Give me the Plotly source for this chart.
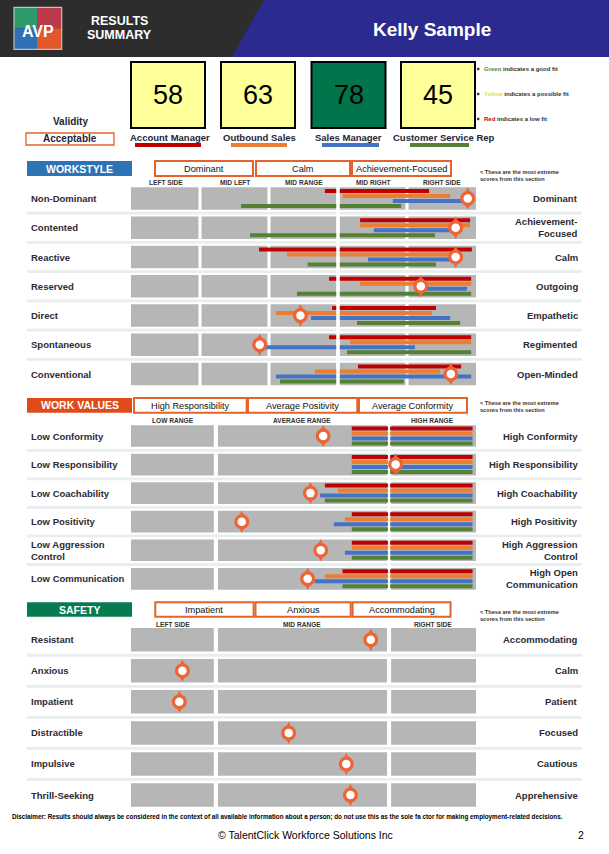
import plotly.graph_objects as go

W, H = 609, 854
FONT = "Liberation Sans, Arial, Helvetica, sans-serif"
INK = "#2B2B35"

# ---------------- data ----------------
person_name = "Kelly Sample"
validity = "Acceptable"

roles = ["Account Manager", "Outbound Sales", "Sales Manager", "Customer Service Rep"]
role_scores = [58, 63, 78, 45]
role_fit = ["Yellow", "Yellow", "Green", "Yellow"]
role_colors = ["#C00000", "#ED7D31", "#4472C4", "#548235"]

fit_words = ["Green", "Yellow", "Red"]
fit_texts = ["indicates a good fit", "indicates a possible fit", "indicates a low fit"]

# WORKSTYLE
ws_left = ["Non-Dominant", "Contented", "Reactive", "Reserved", "Direct", "Spontaneous", "Conventional"]
ws_right = ["Dominant", "Achievement-<br>Focused", "Calm", "Outgoing", "Empathetic", "Regimented", "Open-Minded"]
ws_extremes = ["Dominant", "Calm", "Achievement-Focused"]
ws_cols = ["LEFT SIDE", "MID LEFT", "MID RANGE", "MID RIGHT", "RIGHT SIDE"]
ws_person = [97.6, 94.1, 94.1, 84.0, 49.1, 37.3, 92.7]
ws_am_lo = [56.2, 66.4, 37.1, 57.4, 58.3, 57.4, 65.8]
ws_am_hi = [86.4, 98.3, 98.8, 98.6, 88.4, 98.6, 95.7]
ws_ob_lo = [61.4, 66.4, 45.2, 66.4, 42.0, 63.5, 53.3]
ws_ob_hi = [92.5, 98.3, 93.0, 98.6, 87.2, 98.6, 89.6]
ws_sm_lo = [75.9, 70.4, 68.7, 83.2, 52.2, 38.3, 42.0]
ws_sm_hi = [96.0, 93.0, 93.0, 97.4, 92.5, 82.3, 98.6]
ws_cs_lo = [31.9, 34.5, 51.2, 48.1, 65.5, 62.6, 43.2]
ws_cs_hi = [78.3, 88.1, 88.4, 98.6, 95.4, 98.6, 79.1]

# WORK VALUES
wv_left = ["Low Conformity", "Low Responsibility", "Low Coachability", "Low Positivity",
           "Low Aggression<br>Control", "Low Communication"]
wv_right = ["High Conformity", "High Responsibility", "High Coachability", "High Positivity",
            "High Aggression<br>Control", "High Open<br>Communication"]
wv_extremes = ["High Responsibility", "Average Positivity", "Average Conformity"]
wv_cols = ["LOW RANGE", "AVERAGE RANGE", "HIGH RANGE"]
wv_person = [55.7, 76.7, 52.0, 32.1, 55.0, 51.2]
wv_am_lo = [64.0, 64.0, 56.2, 64.0, 64.0, 61.3]
wv_am_hi = [99.0, 99.0, 99.0, 99.0, 99.0, 99.0]
wv_ob_lo = [64.0, 64.0, 60.0, 62.0, 64.0, 56.2]
wv_ob_hi = [99.0, 99.0, 99.0, 99.0, 99.0, 99.0]
wv_sm_lo = [64.0, 64.0, 54.8, 58.8, 62.0, 53.3]
wv_sm_hi = [99.0, 99.0, 99.0, 99.0, 99.0, 99.0]
wv_cs_lo = [64.0, 64.0, 56.2, 64.0, 64.0, 61.3]
wv_cs_hi = [99.0, 99.0, 99.0, 99.0, 99.0, 99.0]

# SAFETY
sf_left = ["Resistant", "Anxious", "Impatient", "Distractible", "Impulsive", "Thrill-Seeking"]
sf_right = ["Accommodating", "Calm", "Patient", "Focused", "Cautious", "Apprehensive"]
sf_extremes = ["Impatient", "Anxious", "Accommodating"]
sf_cols = ["LEFT SIDE", "MID RANGE", "RIGHT SIDE"]
sf_person = [69.5, 14.9, 14.0, 45.7, 62.4, 63.6]

note_text = "< These are the most extreme<br>scores from this section"
disclaimer = ("<b>Disclaimer:</b> Results should always be considered in the context of all available "
              "information about a person; do not use this as the sole fa ctor for making "
              "employment-related decisions.")
footer = "© TalentClick Workforce Solutions Inc"
page_no = "2"

# ---------------- styles ----------------
PIN = "#EE6436"
GRAY = "#B6B6B6"
SEP = "#E8EDED"
BOX_ORANGE = "#E2642A"
fit_fill = {"Green": "#00744B", "Yellow": "#FFFF99", "Red": "#FF5050"}
fit_word_color = {"Green": "#4F8A3B", "Yellow": "#E3DC4A", "Red": "#C00000"}

shapes, ann = [], []


def X(v):
    return v / W


def Y(v):
    return 1 - v / H


def rect(x0, y0, x1, y1, fill, line=None, lw=0, layer="above"):
    shapes.append(dict(type="rect", xref="paper", yref="paper",
                       x0=X(x0), x1=X(x1), y0=Y(y1), y1=Y(y0),
                       fillcolor=fill, line=dict(color=line or fill, width=lw), layer=layer))


def text(x, y, s, size, color=INK, xanchor="center", xref="paper", yref="paper"):
    ann.append(dict(x=X(x) if xref == "paper" else x, y=Y(y) if yref == "paper" else y,
                    xref=xref, yref=yref, text=s, showarrow=False,
                    xanchor=xanchor, yanchor="middle", align="left" if xanchor == "left" else "center",
                    font=dict(family=FONT, size=size, color=color)))


# ---------------- header ----------------
rect(0, 0, W, 57, "#2D2D2D")
shapes.append(dict(type="path", xref="paper", yref="paper",
                   path=f"M {X(264)},{Y(0)} L {X(W)},{Y(0)} L {X(W)},{Y(57)} L {X(232)},{Y(57)} Z",
                   fillcolor="#2B2A8E", line=dict(width=0)))
# logo
rect(14, 7.3, 37, 28.3, "#2E9A6A")
rect(37, 7.3, 61.7, 28.3, "#BA3A4B")
rect(14, 28.3, 37, 49.3, "#2F6FB5")
rect(37, 28.3, 61.7, 49.3, "#E4572B")
shapes.append(dict(type="rect", xref="paper", yref="paper", x0=X(14), x1=X(61.7), y0=Y(49.3), y1=Y(7.3),
                   line=dict(color="#B9C4BE", width=1.2), fillcolor="rgba(0,0,0,0)"))
text(37.8, 31, "<b>AVP</b>", 16, "white")
text(119, 21, "<b>RESULTS</b>", 12.5, "white")
text(119, 35, "<b>SUMMARY</b>", 12.5, "white")
text(432, 29.3, f"<b>{person_name}</b>", 19, "white")

# ---------------- score boxes ----------------
box_x0 = [131, 221, 311.5, 401]
label_cx = [170, 259.4, 348, 444]
line_x = [(135, 201), (231, 287), (322, 379), (410, 469)]
for k in range(len(roles)):
    x0 = box_x0[k]
    rect(x0, 62, x0 + 74, 128, fit_fill[role_fit[k]], "#000000", 2)
    text(x0 + 37, 95, str(role_scores[k]), 27, "#000000")
    text(label_cx[k], 137, f"<b>{roles[k]}</b>", 9.5, "#1E2436")
    rect(line_x[k][0], 143, line_x[k][1], 147, role_colors[k])

for k, (w, t) in enumerate(zip(fit_words, fit_texts)):
    yy = [69, 94, 119][k]
    rect(477, yy - 1.2, 479.4, yy + 1.2, "#3A3A3A")
    text(482, yy, f"<b><span style='color:{fit_word_color[w]}'>{w}</span> {t}</b>", 6, "#333333", xanchor="left")

text(70, 122, "<b>Validity</b>", 10, "#1E2436")
rect(26, 133, 114, 145, "white", BOX_ORANGE, 1.3)
text(70, 139, f"<b>{validity}</b>", 10, "#1E2436")

# ---------------- sections ----------------
sections = [
    dict(title="WORKSTYLE", fill="#2E74B5", title_y=(161, 176),
         boxes=[(155, 253), (256, 350), (352, 451)], extremes=ws_extremes,
         note_y=175, col_y=182, cols=ws_cols, breaks=[0, 20, 40, 60, 80, 100], gap=0.9,
         mid=(60, 3.5), c0=198.5, pitch=29.25, block_h=22.5,
         left=ws_left, right=ws_right, person=ws_person,
         ranges=[(ws_am_lo, ws_am_hi), (ws_ob_lo, ws_ob_hi), (ws_sm_lo, ws_sm_hi), (ws_cs_lo, ws_cs_hi)]),
    dict(title="WORK VALUES", fill="#E04B1C", title_y=(398, 412.7),
         boxes=[(134, 246.7), (248, 357.3), (359, 467)], extremes=wv_extremes,
         note_y=406.7, col_y=420.7, cols=wv_cols, breaks=[0, 24.6, 74.8, 100], gap=1.2,
         mid=(74.8, 2.2), c0=436, pitch=28.56, block_h=21.7,
         left=wv_left, right=wv_right, person=wv_person,
         ranges=[(wv_am_lo, wv_am_hi), (wv_ob_lo, wv_ob_hi), (wv_sm_lo, wv_sm_hi), (wv_cs_lo, wv_cs_hi)]),
    dict(title="SAFETY", fill="#077A4F", title_y=(602.3, 616.7),
         boxes=[(155.3, 253.6), (255.5, 350.7), (352.6, 450.5)], extremes=sf_extremes,
         note_y=615, col_y=624.3, cols=sf_cols, breaks=[0, 24.6, 74.8, 100], gap=1.2,
         mid=None, c0=639.7, pitch=31.06, block_h=23.5,
         left=sf_left, right=sf_right, person=sf_person, ranges=[]),
]

X0, X1 = 131, 476
bar_offsets = [-7.5, -2.5, 2.5, 7.5]
layout_axes = {}
traces = []

for k, s in enumerate(sections):
    sfx = "" if k == 0 else str(k + 1)
    xa, ya = "x" + sfx, "y" + sfx
    n = len(s["left"])
    p = s["pitch"]
    top = s["c0"] - p / 2
    bot = s["c0"] + (n - 1) * p + p / 2
    layout_axes["xaxis" + sfx] = dict(domain=[X(X0), X(X1)], range=[0, 100], visible=False,
                                      anchor=ya, fixedrange=True)
    layout_axes["yaxis" + sfx] = dict(domain=[Y(bot), Y(top)], range=[n - 0.5, -0.5], visible=False,
                                      anchor=xa, fixedrange=True)

    # title + extreme boxes + note
    t0, t1 = s["title_y"]
    rect(27, t0, 132, t1, s["fill"])
    text(79.5, (t0 + t1) / 2, f"<b>{s['title']}</b>", 10.5, "white")
    for (bx0, bx1), lab in zip(s["boxes"], s["extremes"]):
        rect(bx0, t0, bx1, t1, "white", BOX_ORANGE, 2)
        text((bx0 + bx1) / 2, (t0 + t1) / 2 + 0.3, lab, 9.2, "#111111")
    text(478, s["note_y"], f"<b>{note_text}</b>", 5.6, "#333333", xanchor="left")

    # column labels & gray blocks
    br = s["breaks"]
    g = s["gap"] / 2
    hh = s["block_h"] / p / 2
    for c, lab in enumerate(s["cols"]):
        lo, hi = br[c], br[c + 1]
        ann.append(dict(x=(lo + hi) / 2, y=Y(s["col_y"]), xref=xa, yref="paper", text=f"<b>{lab}</b>",
                        showarrow=False, xanchor="center", yanchor="middle",
                        font=dict(family=FONT, size=6.6, color="#333333")))
        for i in range(n):
            shapes.append(dict(type="rect", xref=xa, yref=ya,
                               x0=lo + (g if c > 0 else 0), x1=hi - (g if c < len(s["cols"]) - 1 else 0),
                               y0=i - hh, y1=i + hh, fillcolor=GRAY, line=dict(width=0), layer="below"))
    # separators
    for i in range(n - 1):
        shapes.append(dict(type="rect", xref="paper", yref=ya, x0=X(27), x1=X(582),
                           y0=i + 0.5 - 1.4 / p, y1=i + 0.5 + 1.4 / p,
                           fillcolor=SEP, line=dict(width=0), layer="below"))
    # row labels
    for i in range(n):
        ann.append(dict(x=X(29), y=i, xref="paper", yref=ya, text=f"<b>{s['left'][i]}</b>",
                        showarrow=False, xanchor="left", yanchor="middle", align="left",
                        font=dict(family=FONT, size=9.5, color=INK)))
        ann.append(dict(x=X(579.5), y=i, xref="paper", yref=ya, text=f"<b>{s['right'][i]}</b>",
                        showarrow=False, xanchor="right", yanchor="middle", align="right",
                        font=dict(family=FONT, size=9.5, color=INK)))
    # role range bars
    for j, (lo_arr, hi_arr) in enumerate(s["ranges"]):
        traces.append(go.Bar(
            y=[i + bar_offsets[j] / p for i in range(n)],
            base=lo_arr, x=[h - l for l, h in zip(lo_arr, hi_arr)],
            orientation="h", width=4 / p, marker=dict(color=role_colors[j], line=dict(width=0)),
            xaxis=xa, yaxis=ya, hoverinfo="skip", showlegend=False))
    # white mid line drawn over the bars, under the pins
    if s["mid"]:
        mx, mw = s["mid"]
        traces.append(go.Scatter(x=[mx, mx], y=[-0.5, n - 0.5], mode="lines",
                                 line=dict(color="white", width=mw), xaxis=xa, yaxis=ya,
                                 hoverinfo="skip", showlegend=False))
    # person pins
    rows = list(range(n))
    for sym, size, col in [("diamond-tall", 16, PIN), ("circle", 15, PIN), ("circle", 8.5, "white")]:
        traces.append(go.Scatter(x=s["person"], y=rows, mode="markers",
                                 marker=dict(symbol=sym, size=size, color=col, line=dict(width=0)),
                                 xaxis=xa, yaxis=ya, hoverinfo="skip", showlegend=False))

# ---------------- footer ----------------
text(10, 817, f"<b>{disclaimer}</b>", 6.3, "#000000", xanchor="left")
text(305, 835, footer, 10.5, "#000000")
text(580.6, 835, page_no, 10.5, "#000000")

fig = go.Figure(data=traces)
fig.update_layout(width=W, height=H, margin=dict(l=0, r=0, t=0, b=0),
                  paper_bgcolor="white", plot_bgcolor="rgba(0,0,0,0)",
                  barmode="overlay", showlegend=False,
                  shapes=shapes, annotations=ann, **layout_axes)
fig.write_html("out.html", config={"displayModeBar": False},
               post_script="document.body.style.margin='0px';document.body.style.overflow='hidden';")
